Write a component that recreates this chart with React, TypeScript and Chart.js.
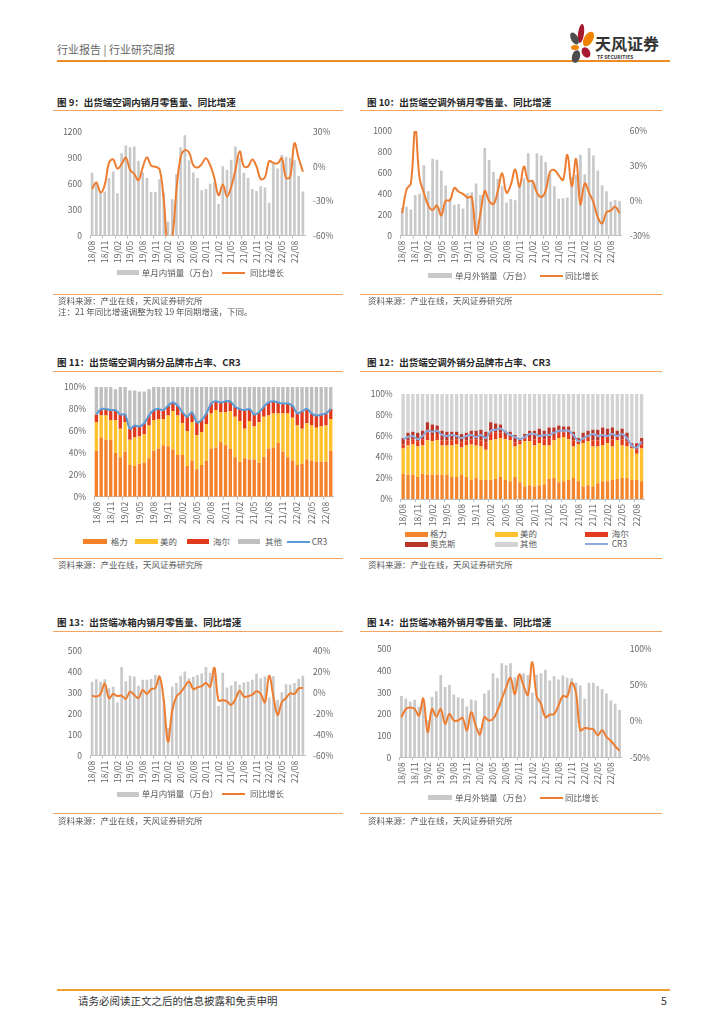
import React, { useEffect, useRef } from 'react';
import { Chart, registerables } from 'chart.js';
Chart.register(...registerables);

const FONT = '"Noto Sans CJK SC", "Noto Sans", sans-serif';
const ORANGE = '#ED7D31';
const BAR_GREY = '#C9C9C9';
const TICK = '#666666';
const RULE = '#F4A460';

// ---------- categories ----------
const months51 = [
  '18/08','18/09','18/10','18/11','18/12','19/01','19/02','19/03','19/04','19/05','19/06','19/07',
  '19/08','19/09','19/10','19/11','19/12','20/01','20/02','20/03','20/04','20/05','20/06','20/07',
  '20/08','20/09','20/10','20/11','20/12','21/01','21/02','21/03','21/04','21/05','21/06','21/07',
  '21/08','21/09','21/10','21/11','21/12','22/01','22/02','22/03','22/04','22/05','22/06','22/07',
  '22/08','22/09','22/10'
];
const months50 = months51.slice(0, 50);

// ---------- Fig 9: AC domestic ----------
const acDomSales = [727,600,520,510,665,740,490,950,1040,1020,1030,865,730,665,505,505,650,495,160,420,710,1020,1160,870,730,665,525,540,600,620,365,800,760,875,1030,900,725,665,540,515,570,555,380,830,775,930,910,900,870,690,510];
const acDomYoy = [-19.6,-14,-22.5,-16,3,6,-2,2,7.5,-3,-6.6,-12,-1,7.8,0.6,-0.3,-2.6,-29,-70,-62,-20.5,8,14,12,1,-1,2,7,1,-10,-25,-15.6,-26,-17.6,-3,13,0,0,6,0,-11,-9.5,4.6,3,2.6,7,-10,-9,20,7,-4.6];

// ---------- Fig 10: AC export ----------
const acExpSales = [265,276,250,388,404,674,425,736,727,624,481,360,295,301,261,407,416,500,388,842,724,612,544,472,317,351,340,510,550,789,530,789,767,705,590,472,354,357,366,560,580,773,587,836,767,624,481,425,326,341,332];
const acExpYoy = [-10.6,9.8,15,63,19.5,7,-4,-7.8,-4,-12.5,0,0.5,11,7.8,6,2.8,3.3,-29,-11,8.4,0,-2.8,8.4,23.7,7,14,27,12,29.5,17,17,7,3.3,8.4,25,26.5,22,18,39.6,12.5,36,-2.8,15,7,-1.4,-14,-19.5,-9.8,-8.4,-5,-10.6];

// ---------- Fig 11: AC domestic brand share ----------
const domGree = [42,54,52,52,40,36,41,29,28,30,31,35,42,44,47,46,43,38,38,28,33,25,29,33,44,45,50,47,44,36,32,35,34,34,31,36,44,45,49,41,36,33,29,30,34,33,32,32,32,42];
const domMidea = [26,20,22,18,30,26,27,23,26,25,26,30,28,27,24,28,35,36,29,32,35,31,30,33,32,34,27,30,34,37,37,27,35,30,37,37,30,31,27,35,40,39,36,32,33,32,31,32,33,29];
const domHaier = [7,6,6,9,9,13,7,10,11,9,10,9,9,9,8,9,8,9,10,13,9,12,11,10,9,8,9,10,9,9,11,17,11,11,9,9,12,11,10,9,9,11,11,16,13,11,11,11,11,9];
const domOther = [25,20,20,21,19,25,25,35,32,32,29,24,21,20,21,17,14,17,23,27,23,32,30,24,15,13,14,13,13,18,20,21,20,25,23,18,14,13,14,15,15,17,24,22,20,24,26,25,24,20];
const domCR3 = [75,80,80,79,79,75,75,62,65,64,67,74,79,80,79,83,86,83,77,73,77,68,70,76,85,87,86,87,87,82,80,79,80,75,77,82,86,87,86,85,85,83,76,78,80,76,74,75,76,80];

// ---------- Fig 12: AC export brand share ----------
const expGree = [24,23,23,21,24,23,23,23,23,23,21,21,23,21,18,20,18,18,18,19,21,18,17,21,16,12,13,12,13,14,19,20,16,17,18,20,17,12,13,12,15,17,17,18,19,20,20,18,18,17];
const expMidea = [24,28,29,29,27,33,32,33,28,28,30,31,26,30,34,31,32,29,38,38,37,39,39,29,36,43,42,39,40,37,32,36,42,42,39,30,35,41,42,38,35,34,36,32,37,31,30,30,25,31];
const expHaier = [4,5,5,5,6,7,6,6,5,5,5,5,5,5,5,6,6,7,7,6,5,3,3,4,3,3,4,6,6,6,7,5,5,4,5,6,3,4,4,6,6,7,6,7,4,6,5,2,4,4];
const expAux = [6,7,7,8,8,10,10,8,9,8,8,7,8,7,8,8,10,10,10,9,8,5,5,7,3,4,6,8,8,8,10,7,7,6,7,8,3,6,6,10,10,10,8,11,5,10,8,3,6,6];
const expOther = [42,37,36,37,35,27,29,30,35,36,36,36,38,37,35,35,34,36,27,28,29,35,36,39,42,38,35,35,33,35,32,32,30,31,31,36,42,37,35,34,34,32,33,32,35,33,37,47,47,42];
const expCR3 = [57,59,60,57,60,65,64,65,61,60,61,60,58,60,61,59,61,58,65,66,67,64,61,59,57,59,62,62,60,61,61,63,65,65,65,61,55,58,60,62,60,61,60,62,60,62,58,51,49,55];

// ---------- Fig 13: fridge domestic ----------
const frDomSales = [353,366,353,366,323,330,254,424,356,382,378,334,363,363,367,386,378,271,134,330,347,382,402,370,377,386,393,424,397,421,237,397,326,336,356,339,350,353,363,393,370,378,278,380,268,303,341,340,348,368,382];
const frDomYoy = [-2.6,-3.5,-1,9,-5,-1,-3,-2.6,-5.7,1.2,-2,-5,2.8,-1,3.7,4.7,15.7,-7.3,-46.7,-16.8,-3.5,0.6,6,11,3.7,5.3,6.6,9.4,6,24,-7.3,-6.7,-8,-11.4,-5.7,2.1,-3.5,-3.2,-1.6,1.5,-1,-8.9,16.3,-3.5,-21,-9,-4.8,-0.4,-1,4.4,4.7];

// ---------- Fig 14: fridge export ----------
const frExpSales = [283,272,258,266,234,250,170,280,305,380,325,335,290,278,272,235,267,262,135,295,310,388,365,435,425,435,370,380,388,380,300,382,388,405,355,375,360,378,368,365,345,332,270,345,345,330,315,295,263,248,218];
const frExpYoy = [5.6,17,19,17,8,31.6,-15,17,6.5,17,-3.5,10,1,1,4.7,-12.6,12.5,-5.8,-18,5.6,1,3.3,14.7,30.7,46.6,60,37.5,65,49,36.6,82,35,24,5.6,9,10,21.6,35,34,53.5,40,-12.6,-9.5,-10.3,-11.3,-19.5,-12.6,-21.7,-27,-34.5,-41];

type Box = { left: number; top: number; width: number; height: number };
type Plot = { l: number; r: number; t: number; b: number };

const tickFont = { family: FONT, size: 8.5 };

function xScale(labels: string[], xH: number) {
  return {
    offset: true,
    grid: {
      display: true,
      drawOnChartArea: false,
      drawTicks: true,
      tickLength: 3,
      color: (c: any) => (c.index % 3 === 0 ? '#BFBFBF' : 'rgba(0,0,0,0)'),
    },
    border: { display: true, color: '#BFBFBF' },
    ticks: {
      autoSkip: false,
      minRotation: 90,
      maxRotation: 90,
      padding: 2,
      color: TICK,
      font: tickFont,
      callback: (_v: any, i: number) => (i % 3 === 0 ? labels[i] : ''),
    },
    afterFit: (s: any) => { s.height = xH; },
  };
}

function ComboChart(props: {
  box: Box; plot: Plot; labels: string[]; bars: number[]; line: number[];
  barName: string; lineName: string; yMax: number; yStep: number;
  rMin: number; rMax: number; rStep: number;
}) {
  const ref = useRef<HTMLCanvasElement>(null);
  useEffect(() => {
    const { box, plot } = props;
    const leftW = plot.l - box.left;
    const rightW = box.left + box.width - plot.r;
    const padTop = plot.t - box.top;
    const xH = box.top + box.height - plot.b;
    const chart = new Chart(ref.current as HTMLCanvasElement, {
      type: 'bar',
      data: {
        labels: props.labels,
        datasets: [
          {
            type: 'line', label: props.lineName, data: props.line, yAxisID: 'y1',
            borderColor: ORANGE, backgroundColor: ORANGE, borderWidth: 2, pointRadius: 0,
            tension: 0.4, order: 0,
          } as any,
          {
            type: 'bar', label: props.barName, data: props.bars, yAxisID: 'y',
            backgroundColor: BAR_GREY, categoryPercentage: 0.62, barPercentage: 1, order: 1,
          } as any,
        ],
      },
      options: {
        animation: false,
        responsive: false,
        maintainAspectRatio: false,
        layout: { padding: { top: padTop, left: 0, right: 0, bottom: 0 } },
        plugins: { legend: { display: false }, tooltip: { enabled: false } },
        scales: {
          x: xScale(props.labels, xH) as any,
          y: {
            position: 'left', min: 0, max: props.yMax,
            grid: { display: false, drawTicks: false }, border: { display: false },
            ticks: { stepSize: props.yStep, padding: 8, color: TICK, font: tickFont, callback: (v: any) => String(v) },
            afterFit: (s: any) => { s.width = leftW; },
          } as any,
          y1: {
            position: 'right', min: props.rMin, max: props.rMax,
            grid: { display: false, drawTicks: false }, border: { display: false },
            ticks: { stepSize: props.rStep, padding: 8, color: TICK, font: tickFont, callback: (v: any) => v + '%' },
            afterFit: (s: any) => { s.width = rightW; },
          } as any,
        },
      },
    });
    return () => chart.destroy();
  }, []);
  const { box } = props;
  return (
    <canvas ref={ref} width={box.width} height={box.height}
      style={{ position: 'absolute', left: box.left, top: box.top, width: box.width, height: box.height }} />
  );
}

function StackChart(props: {
  box: Box; plot: Plot; labels: string[];
  series: { label: string; data: number[]; color: string }[];
  cr3: number[]; cr3Color: string; catPct: number;
}) {
  const ref = useRef<HTMLCanvasElement>(null);
  useEffect(() => {
    const { box, plot } = props;
    const leftW = plot.l - box.left;
    const rightPad = box.left + box.width - plot.r;
    const padTop = plot.t - box.top;
    const xH = box.top + box.height - plot.b;
    const chart = new Chart(ref.current as HTMLCanvasElement, {
      type: 'bar',
      data: {
        labels: props.labels,
        datasets: [
          {
            type: 'line', label: 'CR3', data: props.cr3, borderColor: props.cr3Color,
            backgroundColor: props.cr3Color, borderWidth: 2, pointRadius: 0, tension: 0.35,
            stack: 'line', order: 0,
          } as any,
          ...props.series.map((s) => ({
            type: 'bar', label: s.label, data: s.data, backgroundColor: s.color,
            stack: 'bars', categoryPercentage: props.catPct, barPercentage: 1, order: 1,
          } as any)),
        ],
      },
      options: {
        animation: false,
        responsive: false,
        maintainAspectRatio: false,
        layout: { padding: { top: padTop, left: 0, right: rightPad, bottom: 0 } },
        plugins: { legend: { display: false }, tooltip: { enabled: false } },
        scales: {
          x: { ...(xScale(props.labels, xH) as any), stacked: true },
          y: {
            stacked: true, min: 0, max: 100,
            grid: { display: false, drawTicks: false }, border: { display: false },
            ticks: { stepSize: 20, padding: 8, color: TICK, font: tickFont, callback: (v: any) => v + '%' },
            afterFit: (s: any) => { s.width = leftW; },
          } as any,
        },
      },
    });
    return () => chart.destroy();
  }, []);
  const { box } = props;
  return (
    <canvas ref={ref} width={box.width} height={box.height}
      style={{ position: 'absolute', left: box.left, top: box.top, width: box.width, height: box.height }} />
  );
}

function Txt(p: { x: number; cy: number; size: number; color?: string; bold?: boolean; children: React.ReactNode }) {
  return (
    <div style={{
      position: 'absolute', left: p.x, top: p.cy - p.size * 0.7, fontSize: p.size,
      lineHeight: `${p.size * 1.4}px`, whiteSpace: 'nowrap', color: p.color || '#595959',
      fontWeight: p.bold ? 700 : 400, fontFamily: FONT,
    }}>{p.children}</div>
  );
}

function HLine(p: { x: number; y: number; w: number; h?: number; color?: string }) {
  return <div style={{ position: 'absolute', left: p.x, top: p.y, width: p.w, height: p.h || 1, background: p.color || RULE }} />;
}

type LegItem = { kind: 'box' | 'line'; color: string; x: number; w: number; text: string; tx: number };
function Legend(p: { cy: number; items: LegItem[] }) {
  return (
    <>
      {p.items.map((it, i) => (
        <React.Fragment key={i}>
          <div style={{
            position: 'absolute', left: it.x, width: it.w,
            top: it.kind === 'box' ? p.cy - 2.5 : p.cy - 1,
            height: it.kind === 'box' ? 5 : 2, background: it.color,
          }} />
          <Txt x={it.tx} cy={p.cy} size={8.5}>{it.text}</Txt>
        </React.Fragment>
      ))}
    </>
  );
}

function Petal(p: { x: number; y: number; w: number; h: number; c: string; r: number }) {
  return <div style={{
    position: 'absolute', left: p.x, top: p.y, width: p.w, height: p.h, background: p.c,
    borderRadius: '50%', transform: `rotate(${p.r}deg)`,
  }} />;
}

const SRC = '资料来源：产业在线，天风证券研究所';

export default function App() {
  return (
    <div style={{ position: 'absolute', left: 0, top: 0, width: 724, height: 1024, background: '#fff', overflow: 'hidden', fontFamily: FONT }}>
      {/* header */}
      <Txt x={57} cy={50} size={11} color="#666666">行业报告 | 行业研究周报</Txt>
      <HLine x={57} y={60} w={613} h={2} color="#F08A24" />
      <Petal x={578} y={24} w={6} h={19} c="#A6192E" r={8} />
      <Petal x={571} y={32} w={7} h={13} c="#4D4D4D" r={-28} />
      <Petal x={584} y={31} w={9} h={16} c="#F08300" r={30} />
      <Petal x={571} y={45} w={8} h={5} c="#F08300" r={0} />
      <Petal x={572} y={50} w={8} h={13} c="#4D4D4D" r={15} />
      <Petal x={582} y={47} w={8} h={11} c="#A6192E" r={-30} />
      <Txt x={595} cy={43} size={16} color="#333333" bold>天风证券</Txt>
      <Txt x={597} cy={56} size={5} color="#333333" bold>TF SECURITIES</Txt>

      {/* Fig 9 */}
      <Txt x={57} cy={103} size={9.5} color="#262626" bold>图 9：出货端空调内销月零售量、同比增速</Txt>
      <HLine x={53} y={110} w={290} />
      <ComboChart box={{ left: 53, top: 118, width: 290, height: 150 }} plot={{ l: 90, r: 305, t: 131.7, b: 235.7 }}
        labels={months51} bars={acDomSales} line={acDomYoy} barName="单月内销量（万台）" lineName="同比增长"
        yMax={1200} yStep={300} rMin={-60} rMax={30} rStep={30} />
      <Legend cy={272.7} items={[
        { kind: 'box', color: BAR_GREY, x: 116.7, w: 22, text: '单月内销量（万台）', tx: 141.7 },
        { kind: 'line', color: ORANGE, x: 221.7, w: 23, text: '同比增长', tx: 250 },
      ]} />
      <HLine x={53} y={294} w={290} />
      <Txt x={58} cy={300.7} size={8.5}>{SRC}</Txt>
      <Txt x={58} cy={311.7} size={8.5}>注：21 年同比增速调整为较 19 年同期增速，下同。</Txt>

      {/* Fig 10 */}
      <Txt x={367} cy={103} size={9.5} color="#262626" bold>图 10：出货端空调外销月零售量、同比增速</Txt>
      <HLine x={360} y={110} w={302} />
      <ComboChart box={{ left: 360, top: 118, width: 300, height: 150 }} plot={{ l: 400, r: 621.7, t: 128.3, b: 235.7 }}
        labels={months51} bars={acExpSales} line={acExpYoy} barName="单月外销量（万台）" lineName="同比增长"
        yMax={1000} yStep={200} rMin={-30} rMax={60} rStep={30} />
      <Legend cy={275.7} items={[
        { kind: 'box', color: BAR_GREY, x: 428, w: 24, text: '单月外销量（万台）', tx: 455 },
        { kind: 'line', color: ORANGE, x: 540, w: 23, text: '同比增长', tx: 565 },
      ]} />
      <HLine x={360} y={294} w={302} />
      <Txt x={368} cy={300.7} size={8.5}>{SRC}</Txt>

      {/* Fig 11 */}
      <Txt x={57} cy={363} size={9.5} color="#262626" bold>图 11：出货端空调内销分品牌市占率、CR3</Txt>
      <HLine x={53} y={371} w={290} />
      <StackChart box={{ left: 53, top: 374, width: 290, height: 152 }} plot={{ l: 94, r: 337.3, t: 384.3, b: 496.7 }}
        labels={months50} catPct={0.7} cr3={domCR3} cr3Color="#5B9BD5"
        series={[
          { label: '格力', data: domGree, color: '#F4802A' },
          { label: '美的', data: domMidea, color: '#FFC12B' },
          { label: '海尔', data: domHaier, color: '#E2391D' },
          { label: '其他', data: domOther, color: '#BFBFBF' },
        ]} />
      <Legend cy={541.7} items={[
        { kind: 'box', color: '#F4802A', x: 83, w: 24, text: '格力', tx: 110.7 },
        { kind: 'box', color: '#FFC12B', x: 135, w: 23, text: '美的', tx: 160 },
        { kind: 'box', color: '#E2391D', x: 186.7, w: 22, text: '海尔', tx: 213 },
        { kind: 'box', color: '#BFBFBF', x: 238, w: 22, text: '其他', tx: 265 },
        { kind: 'line', color: '#5B9BD5', x: 286.7, w: 23, text: 'CR3', tx: 311.7 },
      ]} />
      <HLine x={53} y={558} w={290} />
      <Txt x={58} cy={565} size={8.5}>{SRC}</Txt>

      {/* Fig 12 */}
      <Txt x={367} cy={363} size={9.5} color="#262626" bold>图 12：出货端空调外销分品牌市占率、CR3</Txt>
      <HLine x={360} y={371} w={302} />
      <StackChart box={{ left: 360, top: 380, width: 300, height: 146 }} plot={{ l: 400.7, r: 644, t: 394, b: 499 }}
        labels={months50} catPct={0.68} cr3={expCR3} cr3Color="#8FAADC"
        series={[
          { label: '格力', data: expGree, color: '#F4852C' },
          { label: '美的', data: expMidea, color: '#FFC22E' },
          { label: '海尔', data: expHaier, color: '#E23B1E' },
          { label: '奥克斯', data: expAux, color: '#B8372A' },
          { label: '其他', data: expOther, color: '#D3D3D3' },
        ]} />
      <Legend cy={534.3} items={[
        { kind: 'box', color: '#F4852C', x: 405, w: 23, text: '格力', tx: 430 },
        { kind: 'box', color: '#FFC22E', x: 495, w: 23, text: '美的', tx: 520 },
        { kind: 'box', color: '#E23B1E', x: 585, w: 23, text: '海尔', tx: 611.7 },
      ]} />
      <Legend cy={544.3} items={[
        { kind: 'box', color: '#B8372A', x: 405, w: 23, text: '奥克斯', tx: 430 },
        { kind: 'box', color: '#D3D3D3', x: 495, w: 23, text: '其他', tx: 520 },
        { kind: 'line', color: '#8FAADC', x: 585, w: 23, text: 'CR3', tx: 611.7 },
      ]} />
      <HLine x={360} y={558} w={302} />
      <Txt x={368} cy={565} size={8.5}>{SRC}</Txt>

      {/* Fig 13 */}
      <Txt x={57} cy={623} size={9.5} color="#262626" bold>图 13：出货端冰箱内销月零售量、同比增速</Txt>
      <HLine x={53} y={631} w={290} />
      <ComboChart box={{ left: 53, top: 638, width: 290, height: 150 }} plot={{ l: 90, r: 305, t: 650, b: 755.7 }}
        labels={months51} bars={frDomSales} line={frDomYoy} barName="单月内销量（万台）" lineName="同比增长"
        yMax={500} yStep={100} rMin={-60} rMax={40} rStep={20} />
      <Legend cy={794.3} items={[
        { kind: 'box', color: BAR_GREY, x: 116.7, w: 22, text: '单月内销量（万台）', tx: 141.7 },
        { kind: 'line', color: ORANGE, x: 221.7, w: 23, text: '同比增长', tx: 250 },
      ]} />
      <HLine x={53} y={813} w={290} />
      <Txt x={58} cy={820.7} size={8.5}>{SRC}</Txt>

      {/* Fig 14 */}
      <Txt x={367} cy={623} size={9.5} color="#262626" bold>图 14：出货端冰箱外销月零售量、同比增速</Txt>
      <HLine x={360} y={631} w={302} />
      <ComboChart box={{ left: 360, top: 636, width: 300, height: 152 }} plot={{ l: 399.3, r: 621.7, t: 647.7, b: 757.3 }}
        labels={months51} bars={frExpSales} line={frExpYoy} barName="单月外销量（万台）" lineName="同比增长"
        yMax={500} yStep={100} rMin={-50} rMax={100} rStep={50} />
      <Legend cy={797.7} items={[
        { kind: 'box', color: BAR_GREY, x: 428, w: 24, text: '单月外销量（万台）', tx: 455 },
        { kind: 'line', color: ORANGE, x: 540, w: 23, text: '同比增长', tx: 565 },
      ]} />
      <HLine x={360} y={813} w={302} />
      <Txt x={368} cy={820.7} size={8.5}>{SRC}</Txt>

      {/* footer */}
      <HLine x={57} y={989} w={613} h={2} color="#F0A030" />
      <Txt x={78} cy={1001} size={10.5} color="#333333">请务必阅读正文之后的信息披露和免责申明</Txt>
      <Txt x={661} cy={1001} size={10.5} color="#333333">5</Txt>
    </div>
  );
}
